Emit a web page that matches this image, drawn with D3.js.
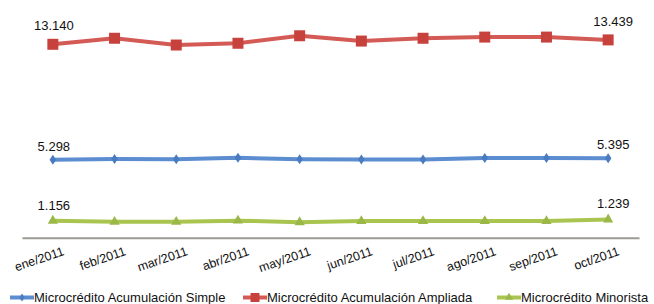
<!DOCTYPE html>
<html><head><meta charset="utf-8">
<script src="https://cdn.jsdelivr.net/npm/d3@7"></script>
<style>html,body{margin:0;padding:0;background:#fff;}svg{display:block;font-family:"Liberation Sans",Arial,Helvetica,sans-serif;}</style>
</head><body>
<script>
const months = ["ene/2011","feb/2011","mar/2011","abr/2011","may/2011","jun/2011","jul/2011","ago/2011","sep/2011","oct/2011"];
const simple   = [5.298,5.35,5.33,5.43,5.33,5.32,5.32,5.42,5.42,5.395];
const ampliada = [13.140,13.55,13.09,13.21,13.72,13.36,13.55,13.63,13.63,13.439];
const minorista= [1.156,1.08,1.08,1.16,1.05,1.13,1.13,1.13,1.13,1.239];
const seriesNames = ["Microcrédito Acumulación Simple","Microcrédito Acumulación Ampliada","Microcrédito Minorista"];
const labelFmt = v => d3.format(".3f")(v).replace(",", "");

const W=654,H=304;
const svg=d3.select("body").append("svg").attr("width",W).attr("height",H);
const x=d3.scaleBand().domain(months).range([22,639]);
const y=d3.scaleLinear().domain([0,16]).range([237.7,2.2]);
const series=[
 {name:seriesNames[0],values:simple,line:"#5b8dd0",mark:"#4a7bbf",shape:"diamond",off:9},
 {name:seriesNames[1],values:ampliada,line:"#d45b55",mark:"#c8423d",shape:"square",off:14},
 {name:seriesNames[2],values:minorista,line:"#a9c44f",mark:"#9ab848",shape:"triangle",off:11}
];
const cx=d=>x(d)+x.bandwidth()/2;
// axis
svg.append("g").attr("transform","translate(0,237.7)")
  .call(d3.axisBottom(x).tickSize(0).tickPadding(0))
  .call(g=>g.select(".domain").attr("stroke","#9d9a96").attr("stroke-width",2))
  .call(g=>g.selectAll("text").attr("font-size",12.5).attr("fill","#111")
     .attr("text-anchor","end").attr("dy",0).attr("y",0)
     .attr("transform","translate(12,17) rotate(-19)"));

function symbolPath(shape,size){
  if(shape==="square") return d3.symbol(d3.symbolSquare,size*size)();
  if(shape==="triangle") return d3.symbol(d3.symbolTriangle,size*size*0.45)();
  return `M0,${-size/2}L${size*0.33},0L0,${size/2}L${-size*0.33},0Z`;
}
const line=d3.line().x((d,i)=>cx(months[i])).y(d=>y(d));
series.forEach(s=>{
  svg.append("path").datum(s.values).attr("d",line).attr("fill","none")
    .attr("stroke",s.line).attr("stroke-width",4).attr("stroke-linejoin","round");
  const sz = s.shape==="square"?11:10;
  svg.append("g").selectAll("path").data(s.values).join("path")
    .attr("transform",(d,i)=>`translate(${cx(months[i])},${y(d)})`)
    .attr("d",symbolPath(s.shape,sz)).attr("fill",s.mark);
  [0,s.values.length-1].forEach(i=>{
    svg.append("text").attr("x",cx(months[i])+(i===0?1:5)).attr("y",y(s.values[i])-s.off)
      .attr("text-anchor","middle").attr("font-size",13).attr("fill","#111")
      .text(labelFmt(s.values[i]));
  });
});
// legend
const legX=[10,243,497];
series.forEach((s,i)=>{
  const g=svg.append("g").attr("transform",`translate(${legX[i]},297.5)`);
  g.append("line").attr("x1",0).attr("x2",24).attr("stroke",s.line).attr("stroke-width",4);
  g.append("path").attr("transform","translate(12,0)").attr("d",symbolPath(s.shape,s.shape==="square"?9:8)).attr("fill",s.mark);
  g.append("text").attr("x",24).attr("y",4.6).attr("font-size",13).attr("fill","#111").text(s.name);
});
</script>
</body></html>
